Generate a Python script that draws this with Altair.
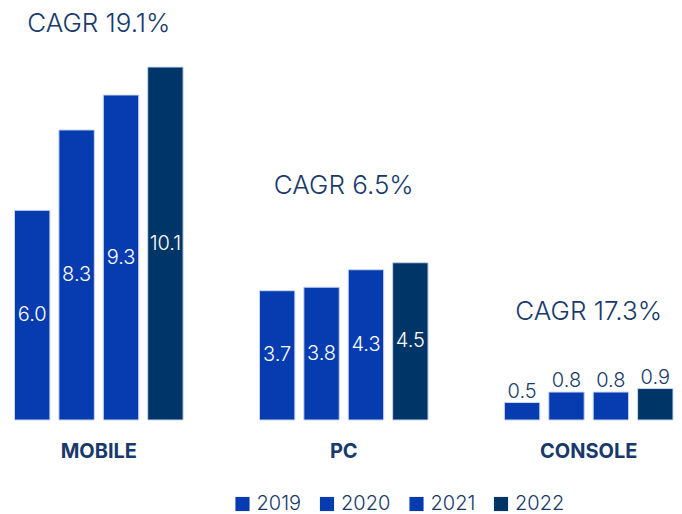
import altair as alt
import pandas as pd

categories = ["MOBILE", "PC", "CONSOLE"]
years = ["2019", "2020", "2021", "2022"]
mobile = [6.0, 8.3, 9.3, 10.1]
pc = [3.7, 3.8, 4.3, 4.5]
console = [0.5, 0.8, 0.8, 0.9]
cagr_labels = ["CAGR 19.1%", "CAGR 6.5%", "CAGR 17.3%"]

BLUE = "#063cb0"
NAVY = "#003568"
TEXT = "#17396b"
FONT = "Inter"

series = {"MOBILE": mobile, "PC": pc, "CONSOLE": console}
rows = []
for cat in categories:
    for yr, v in zip(years, series[cat]):
        rows.append({"category": cat, "year": yr, "value": v})
df = pd.DataFrame(rows)

Y_MAX = 11.79
cagr_rows = []
for cat, lab in zip(categories, cagr_labels):
    m = max(series[cat])
    cagr_rows.append({"category": cat, "label": lab, "ly": min(m + 2.2, 11.33)})
cdf = pd.DataFrame(cagr_rows)

xscale = alt.Scale(domain=categories, paddingInner=0.3116, paddingOuter=0,
                   range=[6.5, 665], round=False)
xoff = alt.Scale(domain=years, paddingInner=0.2022, paddingOuter=0, round=False)
yscale = alt.Scale(domain=[0, Y_MAX])

x_enc = alt.X("category:N", scale=xscale, sort=categories,
              axis=alt.Axis(title=None, domain=False, ticks=False, labelAngle=0,
                            labelFont=FONT, labelFontSize=20, labelFontWeight="bold",
                            labelColor=TEXT, labelPadding=21))

bars = alt.Chart(df).mark_bar(stroke="#c9d6f2", strokeWidth=1).encode(
    x=x_enc,
    xOffset=alt.XOffset("year:N", scale=xoff, sort=years),
    y=alt.Y("value:Q", scale=yscale, axis=None),
    color=alt.Color("year:N", sort=years,
                    scale=alt.Scale(domain=years, range=[BLUE, BLUE, BLUE, NAVY]),
                    legend=alt.Legend(title=None, orient="none", direction="horizontal",
                                      legendX=224.5, legendY=486, symbolType="square",
                                      symbolSize=200, symbolStrokeWidth=0,
                                      labelFont=FONT, labelFontSize=20, labelFontWeight=300,
                                      labelColor=TEXT,
                                      columnPadding=15.5, symbolOffset=0, labelOffset=4)),
)

inside = alt.Chart(df).transform_filter(
    alt.datum.category != "CONSOLE"
).transform_calculate(
    mid="datum.value / 2", lab="format(datum.value, '.1f')"
).mark_text(color="white", font=FONT, fontSize=20, fontWeight=300, baseline="middle").encode(
    x=alt.X("category:N", scale=xscale, sort=categories),
    xOffset=alt.XOffset("year:N", scale=xoff, sort=years),
    y=alt.Y("mid:Q", scale=yscale),
    text="lab:N",
)

above = alt.Chart(df).transform_filter(
    alt.datum.category == "CONSOLE"
).transform_calculate(
    lab="format(datum.value, '.1f')"
).mark_text(color=TEXT, font=FONT, fontSize=20, fontWeight=300, baseline="bottom", dy=-1).encode(
    x=alt.X("category:N", scale=xscale, sort=categories),
    xOffset=alt.XOffset("year:N", scale=xoff, sort=years),
    y=alt.Y("value:Q", scale=yscale),
    text="lab:N",
)

cagr = alt.Chart(cdf).mark_text(color=TEXT, font=FONT, fontSize=26, fontWeight=300,
                                baseline="middle").encode(
    x=alt.X("category:N", scale=xscale, sort=categories),
    y=alt.Y("ly:Q", scale=yscale),
    text="label:N",
)

chart = alt.layer(bars, inside, above, cagr).properties(
    width=666, height=412,
    padding={"left": 0, "top": 0, "right": 0, "bottom": 0},
).configure_view(stroke=None)

chart.save("out.html", embed_options={"renderer": "svg", "actions": False})
